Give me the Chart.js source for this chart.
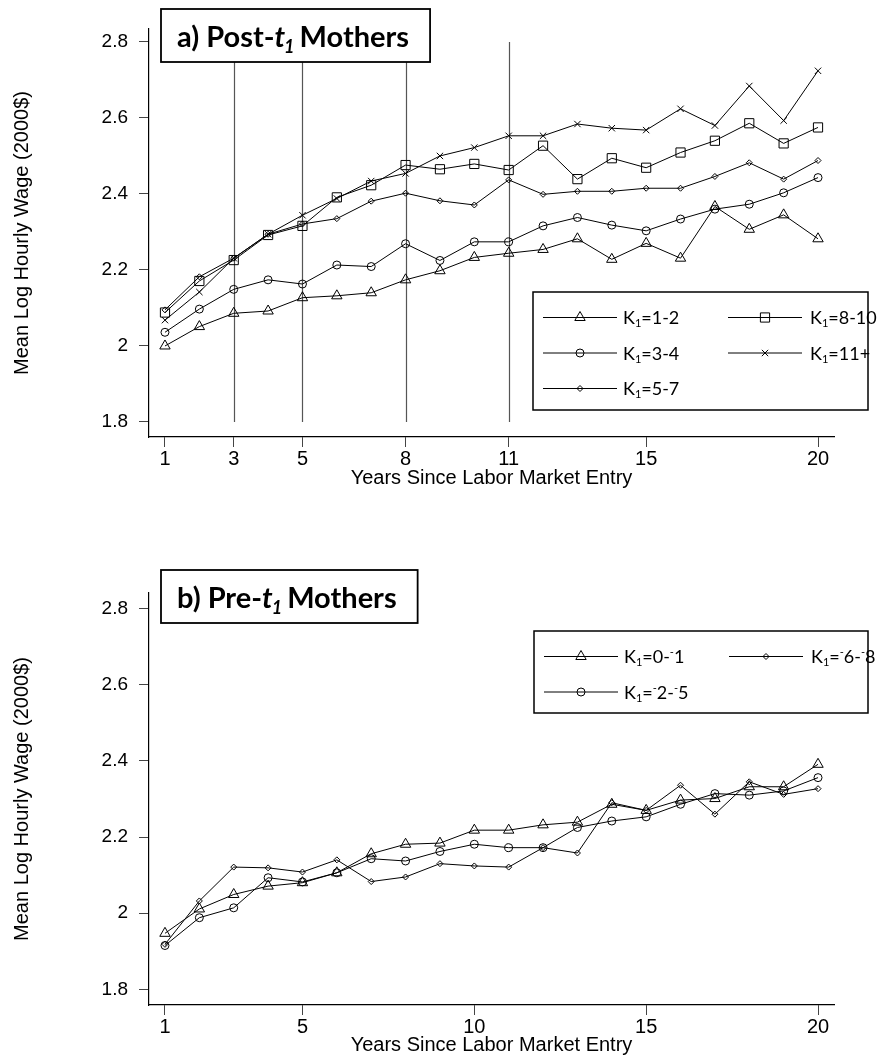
<!DOCTYPE html>
<html>
<head>
<meta charset="utf-8">
<script src="https://cdn.jsdelivr.net/npm/chart.js@4.4.1/dist/chart.umd.min.js"></script>
<style>
  body { margin: 0; background: #fff; }
  canvas { position: absolute; left: 0; }
  #panelA { top: 0; }
  #panelB { top: 564px; }
</style>
</head>
<body>
<canvas id="panelA" width="882" height="500"></canvas>
<canvas id="panelB" width="882" height="493"></canvas>
<script>
// years since labor market entry
const years = [1, 2, 3, 4, 5, 6, 7, 8, 9, 10, 11, 12, 13, 14, 15, 16, 17, 18, 19, 20];

// a) Post-t1 mothers, mean log hourly wage by K1 group
const postK1_2  = [2.000, 2.051, 2.086, 2.092, 2.127, 2.132, 2.140, 2.174, 2.198, 2.233, 2.244, 2.254, 2.282, 2.228, 2.270, 2.231, 2.367, 2.307, 2.345, 2.282];
const postK3_4  = [2.036, 2.097, 2.149, 2.174, 2.163, 2.213, 2.209, 2.269, 2.225, 2.274, 2.274, 2.316, 2.338, 2.318, 2.303, 2.334, 2.360, 2.373, 2.403, 2.443];
const postK5_7  = [2.095, 2.182, 2.231, 2.294, 2.321, 2.335, 2.381, 2.402, 2.382, 2.371, 2.437, 2.399, 2.407, 2.407, 2.415, 2.415, 2.446, 2.482, 2.439, 2.488];
const postK8_10 = [2.088, 2.171, 2.226, 2.292, 2.316, 2.391, 2.423, 2.476, 2.465, 2.479, 2.463, 2.527, 2.439, 2.494, 2.469, 2.509, 2.540, 2.586, 2.533, 2.575];
const postK11   = [2.068, 2.142, 2.231, 2.294, 2.344, 2.388, 2.434, 2.454, 2.500, 2.522, 2.553, 2.553, 2.584, 2.573, 2.568, 2.624, 2.580, 2.684, 2.593, 2.724];
const postLabels = ['K₁=1-2', 'K₁=3-4', 'K₁=5-7', 'K₁=8-10', 'K₁=11+'];

// b) Pre-t1 mothers
const preK0_1 = [1.947, 2.011, 2.049, 2.071, 2.080, 2.106, 2.156, 2.181, 2.184, 2.218, 2.218, 2.232, 2.239, 2.286, 2.270, 2.297, 2.301, 2.332, 2.332, 2.391];
const preK2_5 = [1.915, 1.988, 2.014, 2.093, 2.082, 2.106, 2.143, 2.137, 2.162, 2.181, 2.172, 2.172, 2.225, 2.242, 2.253, 2.286, 2.314, 2.310, 2.321, 2.356];
const preK6_8 = [1.918, 2.032, 2.121, 2.119, 2.108, 2.140, 2.083, 2.095, 2.130, 2.124, 2.121, 2.172, 2.158, 2.290, 2.270, 2.336, 2.260, 2.345, 2.312, 2.327];
const preLabels = ['K₁=0-⁻1', 'K₁=⁻2-⁻5', 'K₁=⁻6-⁻8'];

// axes
const xTicksPost = [1, 3, 5, 8, 11, 15, 20];
const xTicksPre = [1, 5, 10, 15, 20];
const yTicks = [1.8, 2, 2.2, 2.4, 2.6, 2.8];
const yTickLabels = ['1.8', '2', '2.2', '2.4', '2.6', '2.8'];
const refYears = [3, 5, 8, 11];
const refSpan = [1.8, 2.8];
const yTitle = 'Mean Log Hourly Wage (2000$)';
const xTitle = 'Years Since Labor Market Entry';

const AXIS_FONT = "'Liberation Sans', Arial, sans-serif";
const BOX_FONT = "Lato, 'Open Sans', sans-serif";

const markers = {
    tri:  { pointStyle: 'triangle', radius: 6 },
    circ: { pointStyle: 'circle', radius: 4 },
    dia:  { pointStyle: 'rectRot', radius: 3 },
    sq:   { pointStyle: 'rect', radius: 6.5 },
    x:    { pointStyle: 'crossRot', radius: 4.5 }
};

function series(label, values, m) {
    return {
        label: label,
        data: years.map((x, i) => ({ x: x, y: values[i] })),
        borderColor: '#000',
        borderWidth: 1,
        pointStyle: m.pointStyle,
        pointRadius: m.radius,
        pointHoverRadius: m.radius,
        pointBorderColor: '#000',
        pointBackgroundColor: 'rgba(0,0,0,0)',
        pointBorderWidth: 1,
        tension: 0,
        fill: false
    };
}

function drawMarker(ctx, ds, x, y) {
    ctx.save();
    ctx.strokeStyle = '#000';
    ctx.fillStyle = 'rgba(0,0,0,0)';
    ctx.lineWidth = 1;
    if (Chart.helpers && Chart.helpers.drawPoint) {
        Chart.helpers.drawPoint(ctx, { pointStyle: ds.pointStyle, radius: ds.pointRadius, rotation: 0, borderWidth: 1 }, x, y);
    } else {
        ctx.beginPath();
        ctx.arc(x, y, ds.pointRadius, 0, Math.PI * 2);
        ctx.stroke();
    }
    ctx.restore();
}

// writes "K₁=..." with a lowered subscript 1 and small raised minus signs
function drawSubLabel(ctx, label, x, y, size) {
    const normal = size + 'px ' + BOX_FONT;
    const tiny = Math.round(size * 0.62) + 'px ' + BOX_FONT;
    for (const ch of label) {
        if (ch === '₁') {
            ctx.font = tiny;
            ctx.fillText('1', x, y + size * 0.28);
            x += ctx.measureText('1').width;
        } else if (ch === '⁻') {
            ctx.font = tiny;
            ctx.fillText('-', x, y - size * 0.28);
            x += ctx.measureText('-').width;
        } else {
            ctx.font = normal;
            ctx.fillText(ch, x, y);
            x += ctx.measureText(ch).width;
        }
    }
}

const decor = {
    id: 'decor',
    beforeDatasetsDraw(chart, args, opts) {
        if (!opts.refLines) return;
        const { ctx, scales } = chart;
        ctx.save();
        ctx.strokeStyle = '#555';
        ctx.lineWidth = 1.2;
        refYears.forEach(v => {
            const px = Math.round(scales.x.getPixelForValue(v)) + 0.5;
            ctx.beginPath();
            ctx.moveTo(px, scales.y.getPixelForValue(refSpan[0]));
            ctx.lineTo(px, scales.y.getPixelForValue(refSpan[1]));
            ctx.stroke();
        });
        ctx.restore();
    },
    afterDatasetsDraw(chart, args, opts) {
        const ctx = chart.ctx;
        const datasets = chart.data.datasets;

        // legend box
        const lg = opts.legend;
        ctx.save();
        ctx.fillStyle = '#fff';
        ctx.fillRect(lg.x, lg.y, lg.w, lg.h);
        ctx.strokeStyle = '#000';
        ctx.lineWidth = 1.5;
        ctx.strokeRect(lg.x, lg.y, lg.w, lg.h);
        ctx.textBaseline = 'middle';
        ctx.textAlign = 'left';
        ctx.fillStyle = '#000';
        lg.slots.forEach((slot, i) => {
            const ds = datasets[i];
            const cy = lg.y + 25.5 + slot[1] * 35.5;
            const x0 = lg.x + 10 + slot[0] * 185;
            ctx.strokeStyle = '#000';
            ctx.lineWidth = 1;
            ctx.beginPath();
            ctx.moveTo(x0, cy);
            ctx.lineTo(x0 + 74, cy);
            ctx.stroke();
            drawMarker(ctx, ds, x0 + 37, cy);
            drawSubLabel(ctx, ds.label, lg.x + 90 + slot[0] * 187, cy + 1, 18);
        });

        // title box
        const t = opts.title;
        const big = 'bold 29px ' + BOX_FONT;
        const bigIt = 'italic bold 29px ' + BOX_FONT;
        const small = 'italic bold 18px ' + BOX_FONT;
        ctx.textBaseline = 'alphabetic';
        ctx.font = big;
        const w1 = ctx.measureText(t.pre).width;
        const w4 = ctx.measureText(t.post).width;
        ctx.font = bigIt;
        const w2 = ctx.measureText(t.ital).width;
        ctx.font = small;
        const w3 = ctx.measureText(t.sub).width - 2;
        const boxW = w1 + w2 + w3 + w4 + 36;
        ctx.fillStyle = '#fff';
        ctx.fillRect(t.x, t.y, boxW, 53);
        ctx.strokeStyle = '#000';
        ctx.lineWidth = 1.8;
        ctx.strokeRect(t.x, t.y, boxW, 53);
        ctx.fillStyle = '#000';
        let tx = t.x + 16;
        const ty = t.y + 38;
        ctx.font = big; ctx.fillText(t.pre, tx, ty); tx += w1;
        ctx.font = bigIt; ctx.fillText(t.ital, tx, ty); tx += w2 - 1;
        ctx.font = small; ctx.fillText(t.sub, tx, ty + 6); tx += w3;
        ctx.font = big; ctx.fillText(t.post, tx, ty);
        ctx.restore();
    }
};

function makePanel(id, datasets, cfg) {
    const tickGrid = { drawOnChartArea: false, drawTicks: true, tickLength: 10, color: '#444', lineWidth: 1 };
    return new Chart(document.getElementById(id).getContext('2d'), {
        type: 'line',
        data: { datasets: datasets },
        plugins: [decor],
        options: {
            responsive: false,
            animation: false,
            events: [],
            layout: { padding: { left: 0, right: 48, top: 29, bottom: 0 } },
            scales: {
                x: {
                    type: 'linear',
                    min: 0.535,
                    max: 20.465,
                    afterBuildTicks: s => { s.ticks = cfg.xTicks.map(v => ({ value: v })); },
                    afterFit: s => { s.height = cfg.xHeight; },
                    ticks: {
                        autoSkip: false, maxRotation: 0, padding: 0, color: '#000',
                        font: { family: AXIS_FONT, size: 20 },
                        callback: v => String(v)
                    },
                    grid: tickGrid,
                    border: { display: true, color: '#000', width: 1.2 },
                    title: {
                        display: true, text: xTitle, color: '#000',
                        font: { family: AXIS_FONT, size: 20 },
                        padding: { top: 0, bottom: cfg.xTitlePad }
                    }
                },
                y: {
                    type: 'linear',
                    min: cfg.yMin,
                    max: cfg.yMax,
                    afterBuildTicks: s => { s.ticks = yTicks.map(v => ({ value: v })); },
                    afterFit: s => { s.width = 149; },
                    ticks: {
                        padding: 11, color: '#000',
                        font: { family: AXIS_FONT, size: 19 },
                        callback: v => yTickLabels[yTicks.indexOf(v)]
                    },
                    grid: tickGrid,
                    border: { display: true, color: '#000', width: 1.2 },
                    title: {
                        display: true, text: yTitle, color: '#000',
                        font: { family: AXIS_FONT, size: 20 },
                        padding: { top: 10, bottom: 0 }
                    }
                }
            },
            plugins: {
                legend: { display: false },
                tooltip: { enabled: false },
                decor: {
                    refLines: cfg.refLines,
                    legend: cfg.legend,
                    title: cfg.title
                }
            }
        }
    });
}

makePanel('panelA', [
    series(postLabels[0], postK1_2, markers.tri),
    series(postLabels[1], postK3_4, markers.circ),
    series(postLabels[2], postK5_7, markers.dia),
    series(postLabels[3], postK8_10, markers.sq),
    series(postLabels[4], postK11, markers.x)
], {
    xTicks: xTicksPost, xHeight: 63, xTitlePad: 10,
    yMin: 1.7605, yMax: 2.834,
    refLines: true,
    legend: { x: 533, y: 292, w: 335, h: 118, slots: [[0, 0], [0, 1], [0, 2], [1, 0], [1, 1]] },
    title: { x: 161, y: 9, pre: 'a) Post-', ital: 't', sub: '1', post: ' Mothers' }
});

makePanel('panelB', [
    series(preLabels[0], preK0_1, markers.tri),
    series(preLabels[1], preK2_5, markers.circ),
    series(preLabels[2], preK6_8, markers.dia)
], {
    xTicks: xTicksPre, xHeight: 52, xTitlePad: 0,
    yMin: 1.7587, yMax: 2.841,
    refLines: false,
    legend: { x: 534, y: 67, w: 334, h: 82, slots: [[0, 0], [0, 1], [1, 0]] },
    title: { x: 161, y: 6, pre: 'b) Pre-', ital: 't', sub: '1', post: ' Mothers' }
});
</script>
</body>
</html>
